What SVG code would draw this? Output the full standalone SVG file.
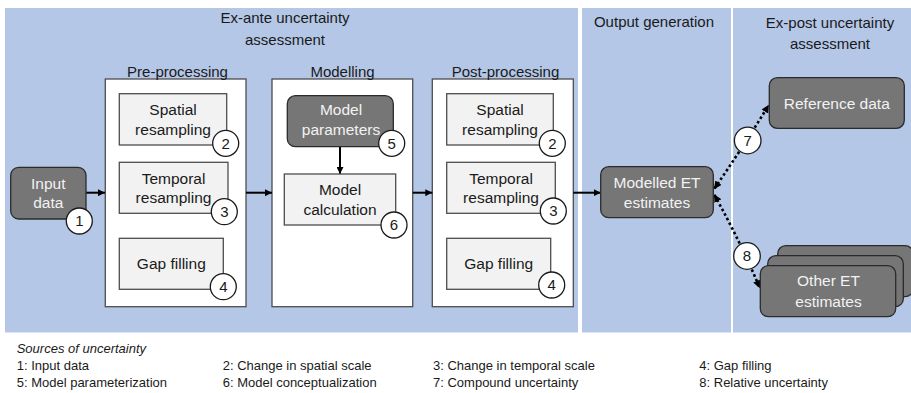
<svg xmlns="http://www.w3.org/2000/svg" width="911" height="393" viewBox="0 0 911 393">
  <style>
    text { font-family: "Liberation Sans", Arial, sans-serif; fill: #1a1a1a; }
    .panel { fill: #b4c7e7; }
    .head { font-size: 15px; text-anchor: middle; }
    .stage { fill: #ffffff; stroke: #4d4d4d; stroke-width: 1.3; }
    .step { fill: #f2f2f2; stroke: #4d4d4d; stroke-width: 1.3; }
    .dark { fill: #767676; stroke: #2b2b2b; stroke-width: 1.3; }
    .lbl { font-size: 15.5px; text-anchor: middle; }
    .wlbl { font-size: 15.5px; text-anchor: middle; fill: #f2f2f2; }
    .badge circle { fill: #ffffff; stroke: #1a1a1a; stroke-width: 1.3; }
    .badge text { font-size: 15px; text-anchor: middle; }
    .flow { stroke: #000000; stroke-width: 2; fill: none; marker-end: url(#tip); }
    .dots { stroke: #000000; stroke-width: 2.6; fill: none; stroke-dasharray: 2.6 2.6; marker-start: url(#dtip); marker-end: url(#dtip); }
    .legend { font-size: 13px; }
  </style>
  <defs>
    <marker id="tip" viewBox="0 0 10 10" refX="10" refY="5" markerWidth="3.5" markerHeight="3.5" orient="auto" markerUnits="strokeWidth">
      <path d="M0,0 L10,5 L0,10 z" fill="#000000"/>
    </marker>
    <marker id="dtip" viewBox="0 0 10 10" refX="9" refY="5" markerWidth="3" markerHeight="3" orient="auto-start-reverse" markerUnits="strokeWidth">
      <path d="M0,0 L10,5 L0,10 z" fill="#000000"/>
    </marker>
  </defs>

  <!-- background panels -->
  <g id="panels">
    <rect class="panel" x="5" y="8" width="573" height="324.5"/>
    <rect class="panel" x="582" y="8" width="149" height="324.5"/>
    <rect class="panel" x="733" y="8" width="178" height="324.5"/>
    <text class="head" x="285" y="23">Ex-ante uncertainty</text>
    <text class="head" x="285" y="44.5">assessment</text>
    <text class="head" x="654" y="26.5">Output generation</text>
    <text class="head" x="830" y="28">Ex-post uncertainty</text>
    <text class="head" x="830" y="49">assessment</text>
  </g>

  <!-- processing stages -->
  <g id="pre-processing">
    <rect class="stage" x="105.3" y="79" width="140.7" height="227.7"/>
    <text class="head" x="177.5" y="76.5">Pre-processing</text>
  </g>
  <g id="modelling">
    <rect class="stage" x="272" y="79" width="140.7" height="227.7"/>
    <text class="head" x="342.5" y="76.5">Modelling</text>
  </g>
  <g id="post-processing">
    <rect class="stage" x="432.3" y="79" width="141" height="227.7"/>
    <text class="head" x="505.5" y="76.5">Post-processing</text>
  </g>

  <!-- connectors -->
  <g id="connectors">
    <line class="flow" x1="86" y1="192.7" x2="105" y2="192.7"/>
    <line class="flow" x1="246" y1="192.7" x2="272" y2="192.7"/>
    <line class="flow" x1="340" y1="146.7" x2="340" y2="174"/>
    <line class="flow" x1="412.7" y1="192.7" x2="432.3" y2="192.7"/>
    <line class="flow" x1="573.3" y1="192.7" x2="600.7" y2="192.7"/>
    <path class="dots" d="M714.5,188.5 Q743,147 768.5,105.5"/>
    <path class="dots" d="M714.5,195 Q742,245 759.5,287.5"/>
  </g>

  <!-- nodes -->
  <g id="input-data">
    <rect class="dark" x="10.7" y="167.3" width="75.3" height="51.7" rx="8"/>
    <text class="wlbl" x="48.3" y="189.3">Input</text>
    <text class="wlbl" x="48.3" y="208.3">data</text>
  </g>
  <g id="pre-spatial">
    <rect class="step" x="119.3" y="93.7" width="107.4" height="51.3"/>
    <text class="lbl" x="173" y="115">Spatial</text>
    <text class="lbl" x="173" y="134.5">resampling</text>
  </g>
  <g id="pre-temporal">
    <rect class="step" x="119.3" y="162.3" width="108.7" height="51"/>
    <text class="lbl" x="173.5" y="183.5">Temporal</text>
    <text class="lbl" x="173.5" y="203">resampling</text>
  </g>
  <g id="pre-gap">
    <rect class="step" x="119.3" y="238.3" width="104" height="51"/>
    <text class="lbl" x="171.3" y="268.5">Gap filling</text>
  </g>
  <g id="model-parameters">
    <rect class="dark" x="287.3" y="95.7" width="106" height="51" rx="8"/>
    <text class="wlbl" x="341" y="115">Model</text>
    <text class="wlbl" x="341" y="134.5">parameters</text>
  </g>
  <g id="model-calculation">
    <rect class="step" x="284.3" y="174" width="111.4" height="51"/>
    <text class="lbl" x="340" y="195">Model</text>
    <text class="lbl" x="340" y="215">calculation</text>
  </g>
  <g id="post-spatial">
    <rect class="step" x="446.7" y="93.7" width="106.6" height="51.3"/>
    <text class="lbl" x="500" y="115">Spatial</text>
    <text class="lbl" x="500" y="134.5">resampling</text>
  </g>
  <g id="post-temporal">
    <rect class="step" x="446.7" y="162.3" width="108.6" height="51"/>
    <text class="lbl" x="501" y="183.5">Temporal</text>
    <text class="lbl" x="501" y="203">resampling</text>
  </g>
  <g id="post-gap">
    <rect class="step" x="446.7" y="238.3" width="104" height="51"/>
    <text class="lbl" x="498.7" y="268.5">Gap filling</text>
  </g>
  <g id="modelled-et">
    <rect class="dark" x="600.7" y="166.7" width="112.6" height="51" rx="8"/>
    <text class="wlbl" x="657" y="188.3">Modelled ET</text>
    <text class="wlbl" x="657" y="208.3">estimates</text>
  </g>
  <g id="reference-data">
    <rect class="dark" x="769.3" y="77.7" width="135" height="50.6" rx="8"/>
    <text class="wlbl" x="836.8" y="109">Reference data</text>
  </g>
  <g id="other-et">
    <rect class="dark" x="777.7" y="245.7" width="135.4" height="51" rx="8"/>
    <rect class="dark" x="767.7" y="255.7" width="135.6" height="51" rx="8"/>
    <rect class="dark" x="760.3" y="265.7" width="135.4" height="51" rx="8"/>
    <text class="wlbl" x="828.5" y="286">Other ET</text>
    <text class="wlbl" x="828.5" y="306.5">estimates</text>
  </g>

  <!-- uncertainty source markers -->
  <g id="badges" class="badge">
    <g id="badge-1"><circle cx="79.3" cy="221" r="13"/><text x="79.3" y="226.3">1</text></g>
    <g id="badge-2a"><circle cx="225.7" cy="143.3" r="13"/><text x="225.7" y="148.6">2</text></g>
    <g id="badge-3a"><circle cx="224.3" cy="211.7" r="13"/><text x="224.3" y="217">3</text></g>
    <g id="badge-4a"><circle cx="223.3" cy="286.7" r="13"/><text x="223.3" y="292">4</text></g>
    <g id="badge-5"><circle cx="391.7" cy="143.3" r="13"/><text x="391.7" y="148.6">5</text></g>
    <g id="badge-6"><circle cx="394" cy="225" r="13"/><text x="394" y="230.3">6</text></g>
    <g id="badge-2b"><circle cx="552.3" cy="143.3" r="13"/><text x="552.3" y="148.6">2</text></g>
    <g id="badge-3b"><circle cx="553.3" cy="211" r="13"/><text x="553.3" y="216.3">3</text></g>
    <g id="badge-4b"><circle cx="551.7" cy="285" r="13"/><text x="551.7" y="290.3">4</text></g>
    <g id="badge-7"><circle cx="747.7" cy="140.5" r="13.3"/><text x="747.7" y="145.8">7</text></g>
    <g id="badge-8"><circle cx="747" cy="256" r="13.3"/><text x="747" y="261.3">8</text></g>
  </g>

  <!-- legend -->
  <g id="legend" class="legend">
    <text x="16.7" y="352.5" font-style="italic">Sources of uncertainty</text>
    <text x="16.7" y="370">1: Input data</text>
    <text x="222.7" y="370">2: Change in spatial scale</text>
    <text x="433" y="370">3: Change in temporal scale</text>
    <text x="699.3" y="370">4: Gap filling</text>
    <text x="16.7" y="386.5">5: Model parameterization</text>
    <text x="222.7" y="386.5">6: Model conceptualization</text>
    <text x="433" y="386.5">7: Compound uncertainty</text>
    <text x="699.3" y="386.5">8: Relative uncertainty</text>
  </g>
</svg>
